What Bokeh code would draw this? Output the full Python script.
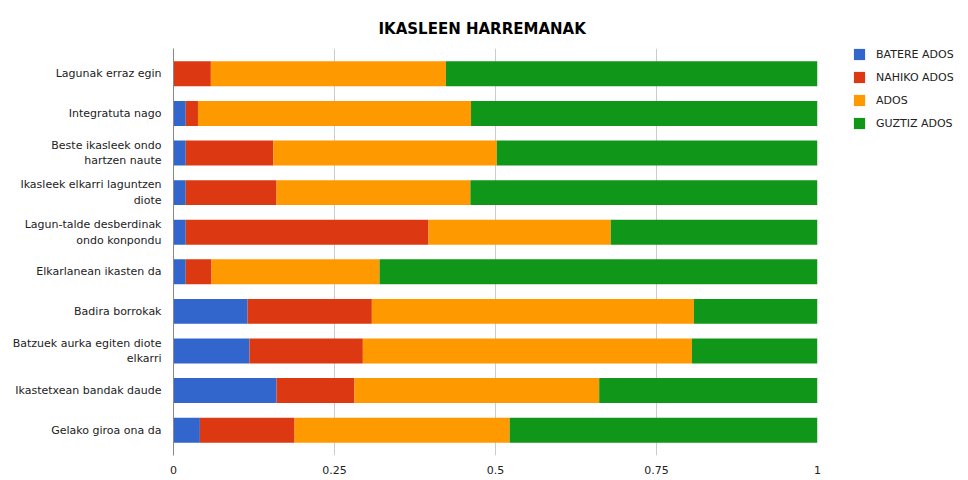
from bokeh.plotting import figure
from bokeh.models import (ColumnDataSource, FactorRange, Range1d, FixedTicker,
                          Legend, LegendItem, Title)
from bokeh.embed import file_html
from bokeh.resources import INLINE

categories = [
    "Lagunak erraz egin",
    "Integratuta nago",
    "Beste ikasleek ondo\nhartzen naute",
    "Ikasleek elkarri laguntzen\ndiote",
    "Lagun-talde desberdinak\nondo konpondu",
    "Elkarlanean ikasten da",
    "Badira borrokak",
    "Batzuek aurka egiten diote\nelkarri",
    "Ikastetxean bandak daude",
    "Gelako giroa ona da",
]
series = ["BATERE ADOS", "NAHIKO ADOS", "ADOS", "GUZTIZ ADOS"]
batere = [0.000, 0.019, 0.019, 0.019, 0.019, 0.019, 0.115, 0.118, 0.160, 0.041]
nahiko = [0.058, 0.019, 0.136, 0.141, 0.377, 0.040, 0.193, 0.176, 0.121, 0.147]
ados   = [0.365, 0.424, 0.347, 0.301, 0.283, 0.261, 0.500, 0.511, 0.380, 0.334]
guztiz = [0.577, 0.538, 0.498, 0.539, 0.321, 0.680, 0.192, 0.195, 0.340, 0.478]
x_ticks = [0, 0.25, 0.5, 0.75, 1]
x_tick_labels = {0: "0", 0.25: "0.25", 0.5: "0.5", 0.75: "0.75", 1: "1"}
colors = ["#3366cc", "#dc3912", "#ff9900", "#109618"]

FONT = "DejaVu Sans"

source = ColumnDataSource(dict(cat=categories, b=batere, n=nahiko, a=ados, g=guztiz))

p = figure(frame_width=644, frame_height=407, output_backend="svg", toolbar_location=None,
           y_range=FactorRange(factors=list(reversed(categories)), range_padding=0.028),
           x_range=Range1d(0, 1))
p.min_border_left = 173
p.min_border_right = 143
p.min_border_top = 48
p.min_border_bottom = 24
p.outline_line_color = None

renderers = p.hbar_stack(["b", "n", "a", "g"], y="cat", height=0.63, color=colors,
                         line_color=None, source=source)

title = Title(text="IKASLEEN HARREMANAK", align="left", offset=205, text_font=FONT,
              text_font_size="15px", text_font_style="bold", text_color="#000000",
              standoff=18, vertical_align="top")
p.add_layout(title, "above")

p.xaxis.ticker = FixedTicker(ticks=x_ticks)
p.xaxis.major_label_overrides = x_tick_labels
p.xaxis.axis_line_color = None
p.xaxis.major_tick_line_color = None
p.xaxis.minor_tick_line_color = None
p.xaxis.major_label_text_font = FONT
p.xaxis.major_label_text_font_size = "11px"
p.xaxis.major_label_text_color = "#222222"
p.xaxis.major_label_standoff = 4

p.yaxis.axis_line_color = "#888888"
p.yaxis.axis_line_width = 1
p.yaxis.major_tick_line_color = None
p.yaxis.minor_tick_line_color = None
p.yaxis.major_label_text_font = FONT
p.yaxis.major_label_text_font_size = "11px"
p.yaxis.major_label_text_color = "#222222"
p.yaxis.major_label_standoff = 6

p.ygrid.grid_line_color = None
p.xgrid.grid_line_color = "#cccccc"
p.xgrid.ticker = FixedTicker(ticks=x_ticks[1:])

items = [LegendItem(label=s, renderers=[r]) for s, r in zip(series, renderers)]
legend = Legend(items=items, location=(35, 325), orientation="vertical",
                glyph_width=14, glyph_height=14, label_height=14, label_standoff=10,
                spacing=9, padding=0, margin=0, border_line_color=None, background_fill_alpha=0,
                label_text_font=FONT, label_text_font_size="11px", label_text_color="#222222")
p.add_layout(legend, "right")

open("out.html", "w").write(file_html(p, INLINE))
